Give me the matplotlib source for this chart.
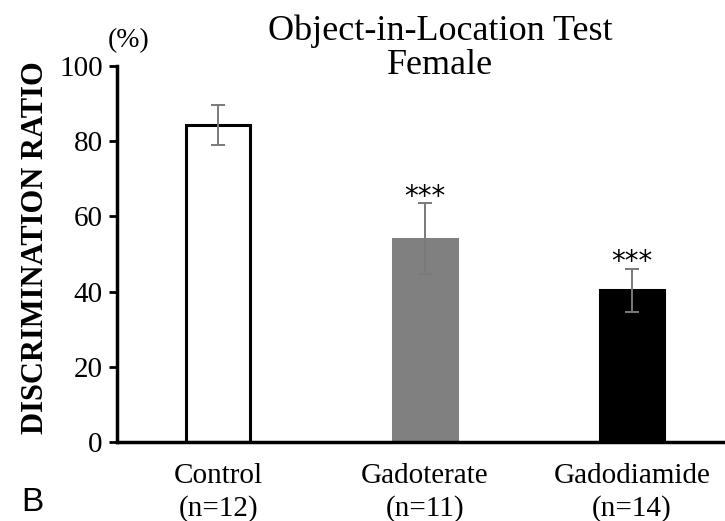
import matplotlib.pyplot as plt
import numpy as np

groups = ["Control\n(n=12)", "Gadoterate\n(n=11)", "Gadodiamide\n(n=14)"]
means = [84.4, 54.1, 40.3]
errors = [5.3, 9.4, 5.7]
bar_colors = ["white", "#808080", "black"]
edge_colors = ["black", "#808080", "black"]
stars = ["", "***", "***"]

plt.rcParams['font.family'] = ['Liberation Serif', 'DejaVu Serif']

fig = plt.figure(figsize=(7.25, 5.21), dpi=100)
ax = fig.add_axes([0.161, 0.152, 0.839, 0.721])

x = np.arange(len(groups))
ax.bar(x, means, width=0.31, color=bar_colors, edgecolor=edge_colors, linewidth=2.2)
ax.errorbar(x, means, yerr=errors, fmt="none", ecolor="#7a7a7a", elinewidth=1.4,
            capsize=5, capthick=1.4)
for xi, m, e, s in zip(x, means, errors, stars):
    if s:
        ax.text(xi, m + e + 1.8, s, ha="center", va="center", fontsize=20,
                family="DejaVu Sans")

ax.set_xlim(-0.49, 2.45)
ax.set_ylim(0, 100)
ax.set_yticks([0, 20, 40, 60, 80, 100])
ax.set_xticks(x)
ax.set_xticklabels(groups, fontsize=21, linespacing=1.3)
ax.tick_params(axis="x", length=0, pad=15)
ax.tick_params(axis="y", labelsize=21, width=2, length=6, pad=4)

for side in ["top", "right"]:
    ax.spines[side].set_visible(False)
ax.spines["left"].set_linewidth(2.5)
ax.spines["bottom"].set_linewidth(2.5)

ax.set_ylabel("DISCRIMINATION RATIO", fontsize=22, fontweight="bold")
ax.yaxis.set_label_coords(-0.11, 0.517)

fig.text(0.607, 0.908, "Object-in-Location Test\nFemale", ha="center", va="center",
         fontsize=26, linespacing=1.05)
fig.text(0.177, 0.923, "(%)", ha="center", va="center", fontsize=20)
fig.text(0.044, 0.036, "B", ha="center", va="center", fontsize=24,
         family="Liberation Sans")

fig.savefig("out.png", dpi=100)
